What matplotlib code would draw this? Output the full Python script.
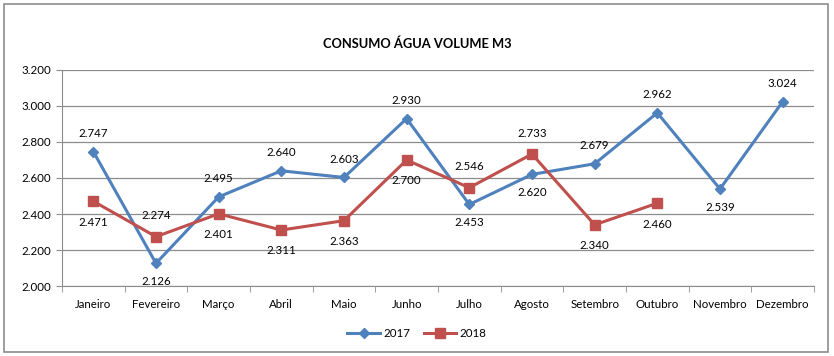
import matplotlib.pyplot as plt
from matplotlib.patches import Rectangle

# Data
meses = ["Janeiro", "Fevereiro", "Março", "Abril", "Maio", "Junho",
         "Julho", "Agosto", "Setembro", "Outubro", "Novembro", "Dezembro"]
consumo_2017 = [2747, 2126, 2495, 2640, 2603, 2930, 2453, 2620, 2679, 2962, 2539, 3024]
consumo_2018 = [2471, 2274, 2401, 2311, 2363, 2700, 2546, 2733, 2340, 2460]

# label side: 1 above, -1 below
lado_2017 = [1, -1, 1, 1, 1, 1, -1, -1, 1, 1, -1, 1]
lado_2018 = [-1, 1, -1, -1, -1, -1, 1, 1, -1, -1]

_blue = "#4F81BD"
_red = "#C0504D"
_grid = "#8C8C8C"
_fs = 8.3

plt.rcParams["font.family"] = ["Lato", "DejaVu Sans"]


def fmt(v):
    return "{:,}".format(v).replace(",", ".")


fig = plt.figure(figsize=(8.34, 3.56), dpi=100)
ax = fig.add_axes([0.0743, 0.1966, 0.9017, 0.6068])

# outer chart border
fig.patches.append(Rectangle((0.005, 0.011), 0.988, 0.978, transform=fig.transFigure,
                             fill=False, edgecolor="#8C8C8C", linewidth=1.2))

x17 = list(range(len(consumo_2017)))
x18 = list(range(len(consumo_2018)))

ax.plot(x17, consumo_2017, color=_blue, linewidth=2.2, marker="D",
        markersize=5.5, label="2017", zorder=3)
ax.plot(x18, consumo_2018, color=_red, linewidth=2.2, marker="s",
        markersize=7, label="2018", zorder=3)

for x, v, s in zip(x17, consumo_2017, lado_2017):
    ax.annotate(fmt(v), (x, v), xytext=(0, 13 * s), textcoords="offset points",
                ha="center", va="center", fontsize=_fs, annotation_clip=False)
for x, v, s in zip(x18, consumo_2018, lado_2018):
    ax.annotate(fmt(v), (x, v), xytext=(0, 15 * s), textcoords="offset points",
                ha="center", va="center", fontsize=_fs, annotation_clip=False)

# axes
ax.set_xlim(-0.5, len(meses) - 0.5)
ax.set_ylim(2000, 3200)
yt = list(range(2000, 3201, 200))
ax.set_yticks(yt)
ax.set_yticklabels([fmt(t) for t in yt], fontsize=_fs)
ax.set_xticks(range(len(meses)))
ax.set_xticklabels(meses, fontsize=_fs)
ax.set_xticks([i - 0.5 for i in range(len(meses) + 1)], minor=True)
ax.tick_params(axis="x", which="major", length=0, pad=9)
ax.tick_params(axis="x", which="minor", length=4, color=_grid)
ax.tick_params(axis="y", length=4, color=_grid, pad=4)

ax.grid(axis="y", color=_grid, linewidth=0.9)
ax.set_axisbelow(True)
for name, spine in ax.spines.items():
    if name in ("left", "bottom"):
        spine.set_color(_grid)
    else:
        spine.set_visible(False)

fig.text(0.5, 0.878, "CONSUMO ÁGUA VOLUME M3", ha="center", va="center",
         fontsize=9.3, fontweight="bold")

fig.legend(loc="center", bbox_to_anchor=(0.5, 0.064), ncol=2, frameon=False,
           fontsize=_fs, handlelength=2.8, columnspacing=1.2, handletextpad=0.3)

fig.savefig("out.png", dpi=100)
